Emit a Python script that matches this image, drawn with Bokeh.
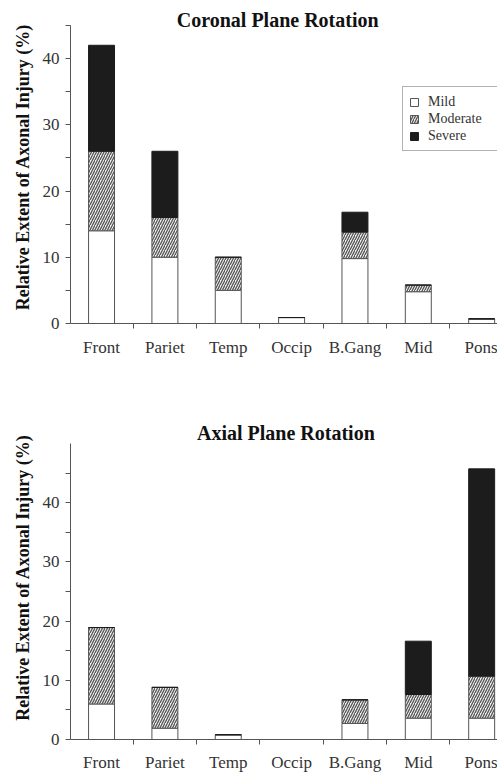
from bokeh.plotting import figure
from bokeh.models import ColumnDataSource, Range1d, FixedTicker, Label
from bokeh.layouts import column
from bokeh.embed import file_html
from bokeh.resources import INLINE

regions = ["Front", "Pariet", "Temp", "Occip", "B.Gang", "Mid", "Pons"]
severity = ["Mild", "Moderate", "Severe"]

coronal_mild = [14.0, 10.0, 5.0, 0.9, 9.8, 4.8, 0.7]
coronal_moderate = [12.0, 6.0, 5.0, 0.0, 4.0, 1.0, 0.0]
coronal_severe = [16.0, 10.0, 0.0, 0.0, 3.0, 0.0, 0.0]

axial_mild = [6.0, 1.9, 0.8, 0.0, 2.7, 3.6, 3.6]
axial_moderate = [12.9, 6.9, 0.0, 0.0, 4.0, 4.0, 7.1]
axial_severe = [0.0, 0.0, 0.0, 0.0, 0.0, 9.0, 35.0]

y_major = [0, 10, 20, 30, 40]
y_minor = [5, 15, 25, 35, 45]

SERIF = "Liberation Serif"
positions = list(range(len(regions)))


def make(title, mild, moderate, severe, height, y_top, y_end, title_x, title_y,
         top_border, bottom_border, x_label_standoff, legend):
    src = ColumnDataSource(dict(x=positions, mild=mild, moderate=moderate, severe=severe))
    p = figure(width=497, height=height, title=None,
               x_range=Range1d(-0.49, 6.25), y_range=Range1d(0, y_end),
               output_backend="svg", toolbar_location=None,
               min_border_left=70, min_border_right=0, min_border_top=top_border,
               min_border_bottom=bottom_border)
    p.outline_line_color = None
    p.grid.grid_line_color = None
    p.background_fill_color = "white"
    kw = {}
    if legend:
        kw["legend_label"] = severity
    p.vbar_stack(["mild", "moderate", "severe"], x="x", width=0.41, source=src,
                 fill_color=["white", "#f2f2f2", "#1c1c1c"],
                 line_color=["#555555", "#555555", "#1c1c1c"], line_width=1,
                 hatch_pattern=[" ", "right_diagonal_line", " "], hatch_color="#555555",
                 hatch_scale=5, hatch_weight=1.3, **kw)

    p.add_layout(Label(x=title_x, y=title_y, text=title, text_align="center",
                       text_baseline="middle", text_font=SERIF, text_font_style="bold",
                       text_font_size="20px", text_color="#111111"))

    ya = p.yaxis[0]
    ya.bounds = (0, y_top)
    ya.ticker = FixedTicker(ticks=y_major, minor_ticks=y_minor)
    ya.major_tick_out = 5
    ya.major_tick_in = 0
    ya.minor_tick_out = 5
    ya.minor_tick_in = 0
    ya.axis_line_color = "#555555"
    ya.major_tick_line_color = "#555555"
    ya.minor_tick_line_color = "#555555"
    ya.major_label_text_font = SERIF
    ya.major_label_text_font_size = "17px"
    ya.major_label_text_color = "#333333"
    ya.major_label_standoff = 6
    ya.axis_label = "Relative Extent of Axonal Injury (%)"
    ya.axis_label_text_font = SERIF
    ya.axis_label_text_font_style = "bold"
    ya.axis_label_text_font_size = "18px"
    ya.axis_label_text_color = "#111111"
    ya.axis_label_standoff = 7

    xa = p.xaxis[0]
    xa.ticker = FixedTicker(ticks=positions, minor_ticks=[i + 0.5 for i in positions[:-1]])
    xa.major_label_overrides = {i: r for i, r in zip(positions, regions)}
    xa.major_tick_out = 0
    xa.major_tick_in = 0
    xa.minor_tick_out = 5
    xa.minor_tick_in = 0
    xa.axis_line_color = "#555555"
    xa.minor_tick_line_color = "#555555"
    xa.major_label_text_font = SERIF
    xa.major_label_text_font_size = "17px"
    xa.major_label_text_color = "#333333"
    xa.major_label_standoff = x_label_standoff

    if legend:
        lg = p.legend[0]
        lg.location = (332, 172)
        lg.label_text_font = SERIF
        lg.label_text_font_size = "14px"
        lg.label_text_color = "#333333"
        lg.glyph_width = 10
        lg.glyph_height = 10
        lg.label_height = 17
        lg.label_width = 64
        lg.label_standoff = 9
        lg.padding = 6
        lg.spacing = 0
        lg.margin = 0
        lg.border_line_color = "#666666"
        lg.border_line_width = 1
        lg.background_fill_color = "white"
        lg.background_fill_alpha = 1.0
    return p


p1 = make("Coronal Plane Rotation", coronal_mild, coronal_moderate, coronal_severe,
          height=413, y_top=45, y_end=47.25, title_x=2.78, title_y=45.75,
          top_border=10, bottom_border=90, x_label_standoff=9, legend=True)
p2 = make("Axial Plane Rotation", axial_mild, axial_moderate, axial_severe,
          height=361, y_top=50, y_end=54.71, title_x=2.91, title_y=51.68,
          top_border=2, bottom_border=34, x_label_standoff=8, legend=False)

layout = column(p1, p2, spacing=0)
open("out.html", "w").write(file_html(layout, INLINE))
